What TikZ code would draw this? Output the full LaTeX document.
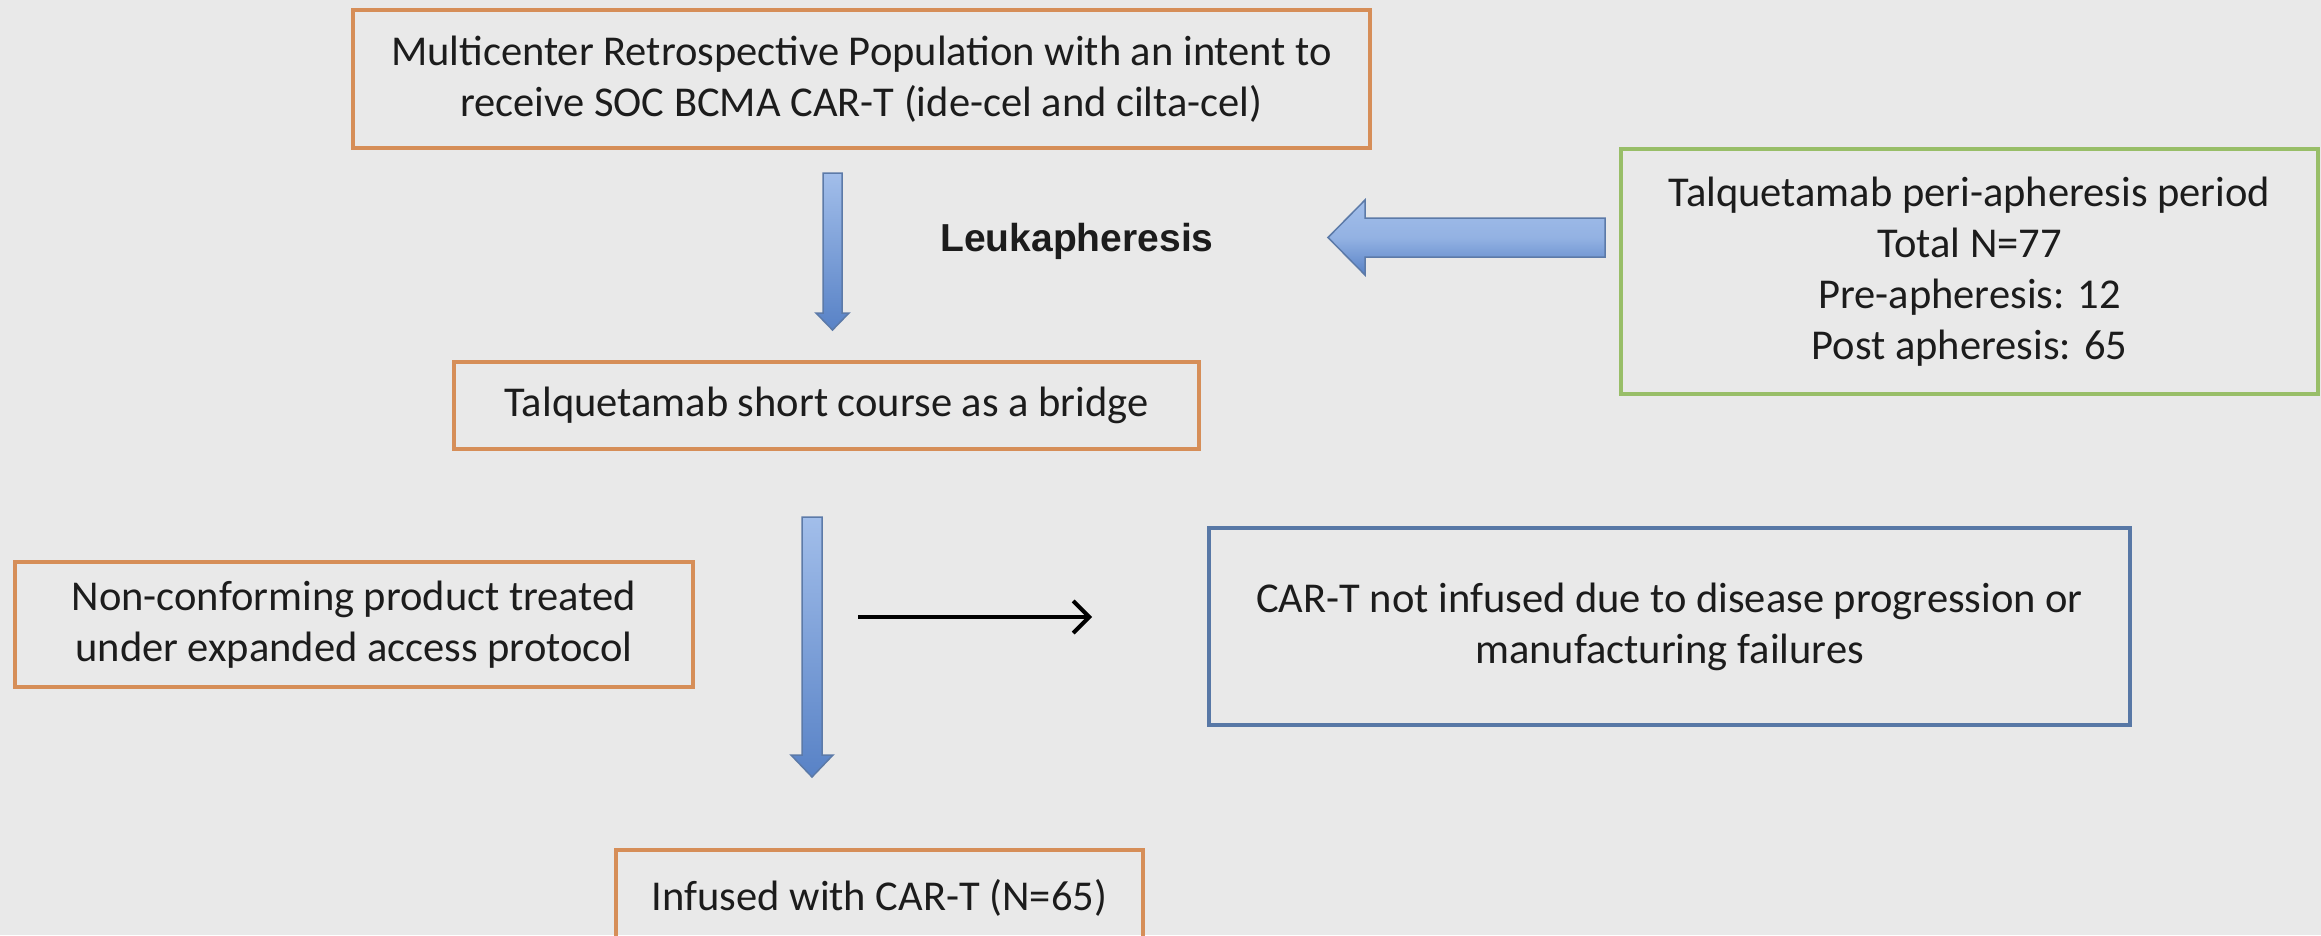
\documentclass[tikz,border=0pt]{standalone}
\usepackage{fontspec}
\setmainfont{Carlito}
\newfontfamily\lsans{Liberation Sans}
\usetikzlibrary{arrows.meta,calc}
\definecolor{bg}{RGB}{233,233,233}
\definecolor{orng}{RGB}{214,142,88}
\definecolor{grn}{RGB}{152,190,104}
\definecolor{bluebd}{RGB}{88,120,166}
\definecolor{txt}{RGB}{28,28,28}
\definecolor{arrlight}{RGB}{162,190,234}
\definecolor{arrdark}{RGB}{88,130,198}
\definecolor{arredge}{RGB}{92,122,168}
% block arrows between named coordinates: #1 start, #2 tip, #3 shaft half width, #4 head half width, #5 head length
\newcommand\downblock[5]{\path[blockarrow] let \p1=(#1), \p2=(#2) in
  (\x1-#3,\y1) -- (\x1+#3,\y1) -- (\x1+#3,\y2+#5) -- (\x1+#4,\y2+#5) -- (\x1,\y2)
  -- (\x1-#4,\y2+#5) -- (\x1-#3,\y2+#5) -- cycle;}
\newcommand\leftblock[5]{\path[harrow] let \p1=(#1), \p2=(#2) in
  (\x1,\y1+#3) -- (\x1,\y1-#3) -- (\x2+#5,\y1-#3) -- (\x2+#5,\y1-#4) -- (\x2,\y1)
  -- (\x2+#5,\y1+#4) -- (\x2+#5,\y1+#3) -- cycle;}
\begin{document}
\begin{tikzpicture}[x=1pt,y=-1pt,
  box/.style={draw, line width=4pt, inner sep=0pt, align=center, text=txt,
    font=\fontsize{42.5}{51}\selectfont},
  obox/.style={box, draw=orng},
  gbox/.style={box, draw=grn},
  bbox/.style={box, draw=bluebd},
  blockarrow/.style={draw=arredge, line width=1.5pt, top color=arrlight, bottom color=arrdark, line join=miter},
  harrow/.style={draw=arredge, line width=1.5pt, top color=arrlight, bottom color=arrdark, middle color=arrlight!80!arrdark, line join=miter},
  thinarrow/.style={draw=black, line width=4pt, -{Straight Barb[length=16pt,width=32pt,line width=4pt]}}
]
\fill[bg] (0,0) rectangle (2321,935);
\useasboundingbox (0,0) rectangle (2321,935);

% boxes
\node[obox, minimum width=1017pt, minimum height=138pt] (top) at (861.5,79)
  {Multicenter Retrospective Population with an intent to\\receive SOC BCMA CAR-T (ide-cel and cilta-cel)};
\node[obox, minimum width=745pt, minimum height=87pt] (mid) at (826.5,405.5)
  {Talquetamab short course as a bridge};
\node[gbox, minimum width=697pt, minimum height=245pt] (peri) at (1969.5,271.5)
  {Talquetamab peri-apheresis period\\Total N=77\\Pre-apheresis: 12\\Post apheresis: 65};
\node[obox, minimum width=678pt, minimum height=125pt] (ncp) at (354,624.5)
  {Non-conforming product treated\\under expanded access protocol};
\node[bbox, minimum width=921pt, minimum height=197pt] (notinf) at (1669.5,626.5)
  {CAR-T not infused due to disease progression or\\manufacturing failures};
\node[obox, minimum width=527pt, minimum height=95pt] (inf) at (879.5,897.5)
  {Infused with CAR-T (N=65)};

% label
\node[text=txt, font=\lsans\bfseries\fontsize{39}{46}\selectfont] (leuk) at (1077,241) {Leukapheresis};

% connector end points
\coordinate (a1s) at (832.5,173);
\coordinate (a1e) at (832.5,330);
\coordinate (a2s) at (812,517);
\coordinate (a2e) at (812,777);
\coordinate (a3s) at (1605,237.5);
\coordinate (a3e) at (1328,237.5);
\coordinate (bs) at (858,617);
\coordinate (be) at (1092,617);

% block arrows
\downblock{a1s}{a1e}{9.5pt}{16.5pt}{17pt}
\downblock{a2s}{a2e}{10pt}{21pt}{22pt}
\leftblock{a3s}{a3e}{19.5pt}{37.5pt}{37pt}

% thin black arrow
\draw[thinarrow] (bs) -- (be);
\end{tikzpicture}
\end{document}
